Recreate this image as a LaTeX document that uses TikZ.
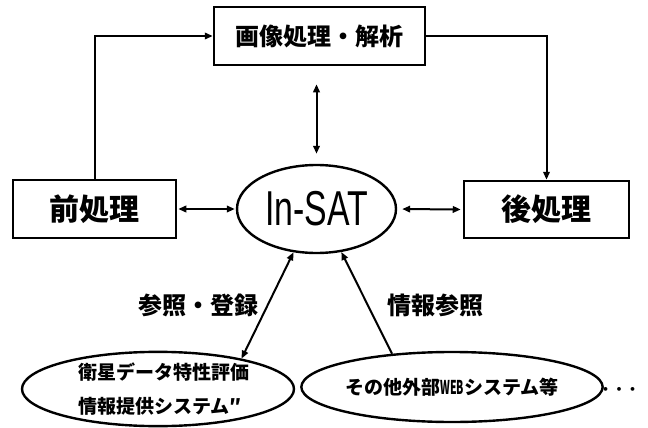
\documentclass[tikz,border=0pt]{standalone}
\usepackage{fontspec}
\usepackage{graphicx}
\setmainfont{Liberation Sans}
\newfontfamily\jp{Noto Sans CJK JP}
\usetikzlibrary{arrows.meta,shapes.geometric,calc}
\tikzset{
  box/.style={draw, line width=2.5pt, rectangle, inner sep=0pt},
  oval/.style={draw, line width=2.4pt, ellipse, inner sep=0pt},
  conn/.style={line width=2pt},
  tip/.style={-{Triangle[length=8pt,width=6.5pt]}},
  dtip/.style={{Triangle[length=8pt,width=6.5pt]}-{Triangle[length=8pt,width=6.5pt]}},
  jpbig/.style={font=\jp\bfseries\fontsize{30}{30}\selectfont},
  jpmid/.style={font=\jp\bfseries\fontsize{24}{24}\selectfont},
  jpsmall/.style={font=\jp\bfseries\fontsize{19}{34}\selectfont},
}
\begin{document}
\begin{tikzpicture}[x=1pt,y=-1pt]
\useasboundingbox (0,0) rectangle (648,428);
% nodes
\node[box, jpmid, minimum width=211pt, minimum height=58pt] (top) at (319.5,36) {画像処理・解析};
\node[box, jpbig, minimum width=163pt, minimum height=58pt] (pre) at (94.5,209) {前処理};
\node[box, jpbig, minimum width=165pt, minimum height=57pt] (post) at (546.5,209.5) {後処理};
\node[oval, minimum width=159pt, minimum height=88pt, font=\fontsize{49}{49}\selectfont] (insat) at (316.5,209) {\scalebox{0.69}[1]{In-SAT}};
\node[oval, jpsmall, align=left, minimum width=272pt, minimum height=74pt] (sat) at (158,389) {\hspace*{11pt}衛星データ特性評価\\\hspace*{11pt}情報提供システム″};
\node[oval, jpsmall, minimum width=274pt, minimum height=70pt] (web) at (452,387) {その他外部\scalebox{0.55}[1]{WEB}システム等};
\node[font=\jp\bfseries\fontsize{13.5}{13.5}\selectfont, inner sep=0pt] (dots) at (619,391) {・・・};
% labels
\node[jpmid] (lab1) at (198,305) {参照・登録};
\node[jpmid] (lab2) at (435,305) {情報参照};
% connectors
\draw[conn, tip] (pre.north) |- (top.west);
\draw[conn, tip] (top.east) -| (post.north);
\draw[conn, dtip, shorten <=18pt, shorten >=10pt] (insat.north |- top.south) -- (insat.north);
\draw[conn, dtip, shorten <=1pt, shorten >=1pt] (pre.east) -- (insat.west);
\draw[conn, dtip, shorten <=5pt, shorten >=2pt] (insat.east) -- (post.west);
\draw[conn, dtip] (insat.242) -- (sat.20);
\draw[conn, tip] (web.151) -- (insat.300);
\end{tikzpicture}
\end{document}
